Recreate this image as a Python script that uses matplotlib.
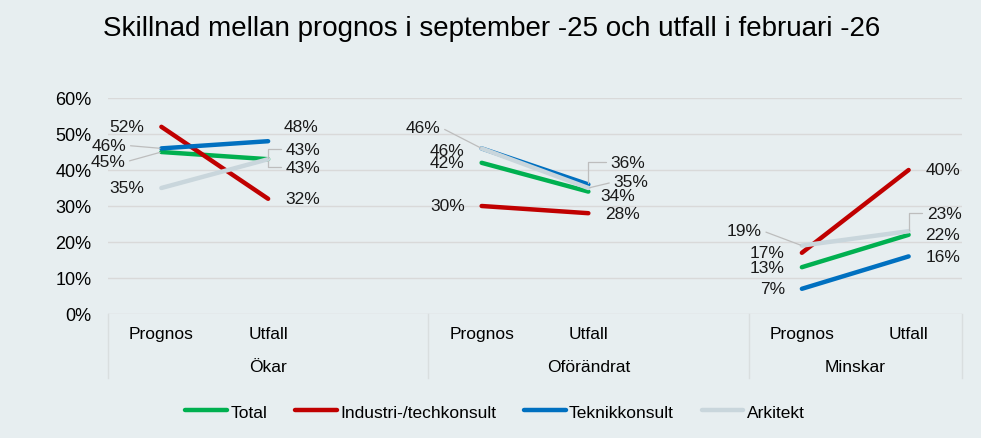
import matplotlib.pyplot as plt
from matplotlib.transforms import blended_transform_factory

plt.rcParams['font.family'] = ['Liberation Sans', 'DejaVu Sans']

# Data (prognos, utfall) per group
groups = ['Ökar', 'Oförändrat', 'Minskar']
stages = ['Prognos', 'Utfall']
series = ['Total', 'Industri-/techkonsult', 'Teknikkonsult', 'Arkitekt']
total = [[45, 43], [42, 34], [13, 22]]
industri = [[52, 32], [30, 28], [17, 40]]
teknik = [[46, 48], [46, 36], [7, 16]]
arkitekt = [[35, 43], [46, 35], [19, 23]]
values = [total, industri, teknik, arkitekt]

colors = ['#00B050', '#C00000', '#0070C0', '#C9D6DC']
bg = '#E7EEF0'

# label placement (pixels) for labels that are moved off the default spot
# key: (series, group, stage) -> (dx, dy, leader line?)
label_pos = {
    (0, 0, 0): (-36, -10, True),
    (2, 0, 0): (-35, 3, True),
    (0, 0, 1): (17, 10, True),
    (3, 0, 1): (17, -8, True),
    (2, 0, 1): (15, 15, False),
    (3, 1, 0): (-41, 21, True),
    (2, 1, 0): (-17, -2, False),
    (2, 1, 1): (22, 22, True),
    (3, 1, 1): (25, 6, True),
    (0, 1, 1): (12, -4, False),
    (3, 2, 0): (-40, 15, True),
    (3, 2, 1): (18, 18, True),
}

fig = plt.figure(figsize=(9.81, 4.39), dpi=100, facecolor=bg)
ax = fig.add_axes([108 / 981, 1 - 315 / 439, 854 / 981, 216 / 439])
ax.set_facecolor(bg)

for s in range(len(series)):
    for g in range(len(groups)):
        xs = [3 * g, 3 * g + 1]
        ax.plot(xs, values[s][g], color=colors[s], lw=3.2, solid_capstyle='round',
                zorder=3 + s, label=series[s] if g == 0 else None)
        for st in range(2):
            v = values[s][g][st]
            default = (-17, 0, False) if st == 0 else (17, 0, False)
            dx, dy, leader = label_pos.get((s, g, st), default)
            ha = 'right' if st == 0 else 'left'
            arrow = None
            if leader:
                if st == 0 or (s, g, st) == (3, 1, 1):
                    conn = 'arc3'
                else:
                    conn = 'angle,angleA=0,angleB=90,rad=0'
                arrow = dict(arrowstyle='-', color='#BDBDBD', lw=0.9,
                             shrinkA=1, shrinkB=1,
                             relpos=(1, 0.5) if st == 0 else (0, 0.5),
                             connectionstyle=conn)
            ax.annotate(f'{v}%', xy=(xs[st], v), xytext=(dx, dy),
                        textcoords='offset pixels', ha=ha, va='center',
                        fontsize=12.5, color='#1a1a1a', arrowprops=arrow,
                        zorder=10)

ax.set_xlim(-0.5, 7.5)
ax.set_ylim(0, 60)
ax.set_yticks(range(0, 61, 10))
ax.set_yticklabels([f'{t}%' for t in range(0, 61, 10)])
ticks = [0, 1, 3, 4, 6, 7]
ax.set_xticks(ticks)
ax.set_xticklabels(stages * 3)
ax.tick_params(axis='x', length=0, pad=9, labelsize=12.5)
ax.tick_params(axis='y', length=0, pad=12, labelsize=13)
ax.grid(axis='y', color='#D9D9D9', lw=1)
ax.set_axisbelow(True)
for sp in ax.spines.values():
    sp.set_visible(False)

# group labels and dividers under the axis
trans = blended_transform_factory(ax.transData, ax.transAxes)
bounds = [-0.5, 2.5, 5.5, 7.5]
for b in bounds:
    ax.plot([b, b], [0, -0.296], transform=trans, color='#D9DEDF', lw=1,
            clip_on=False)
for g in range(len(groups)):
    ax.text((bounds[g] + bounds[g + 1]) / 2, -0.245, groups[g], transform=trans,
            ha='center', va='center', fontsize=12.5)

fig.text(492 / 981, 1 - 29 / 439,
         'Skillnad mellan prognos i september -25 och utfall i februari -26',
         ha='center', va='center', fontsize=20)

fig.legend(loc='center', bbox_to_anchor=(495 / 981, 1 - 413 / 439), ncol=4,
           frameon=False, fontsize=12.5, handlelength=2.4, handletextpad=0.2,
           columnspacing=1.6)

fig.savefig('out.png', dpi=100, facecolor=bg)
